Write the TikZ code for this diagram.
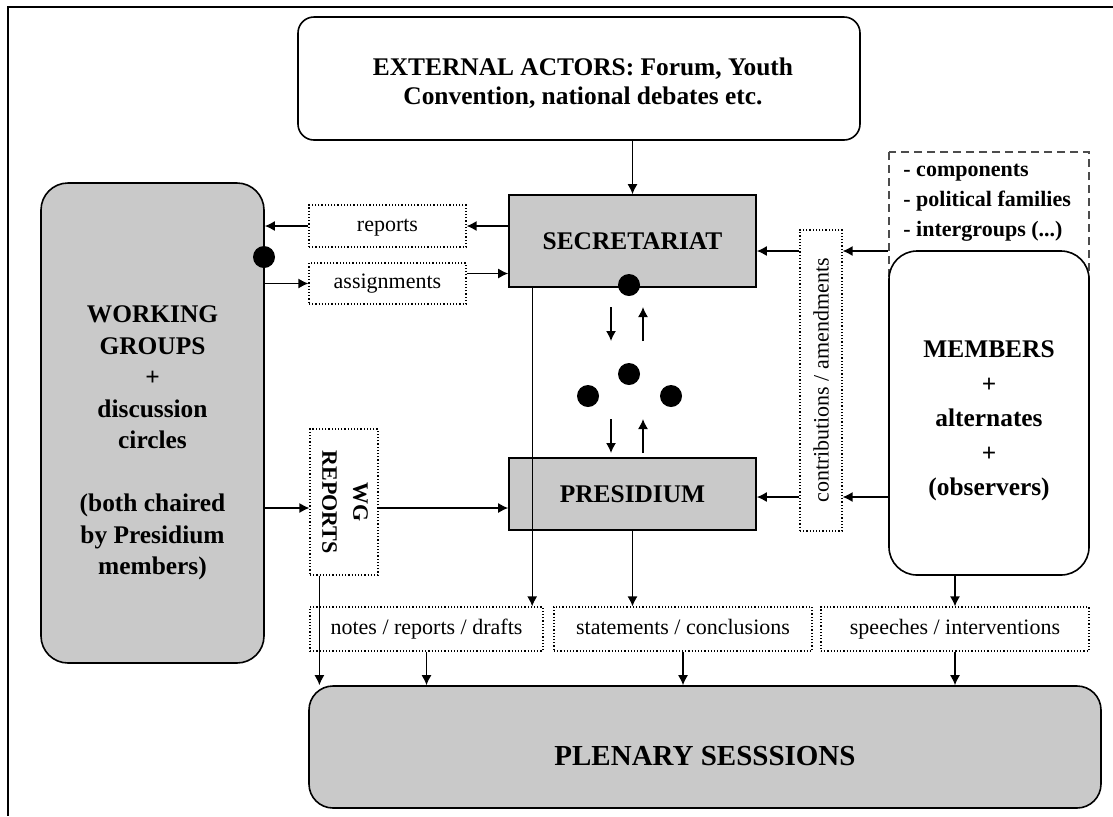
\documentclass[tikz,border=0pt]{standalone}
\usepackage{fontspec}
\setmainfont{Liberation Serif}
\usepackage{graphicx}
\usepackage{tikz}
\usetikzlibrary{calc,arrows.meta}
\definecolor{boxgray}{RGB}{201,201,201}

\begin{document}
\begin{tikzpicture}[x=0.5pt, y=-0.5pt,
    >={Latex[length=5pt,width=5pt]},
    arr/.style={->, line width=0.7pt},
    graybox/.style={draw, line width=0.8pt, fill=boxgray, inner sep=0pt, font=\bfseries\fontsize{12.7pt}{15pt}\selectfont},
    roundbox/.style={draw, line width=0.8pt, rounded corners=8pt, inner sep=0pt, align=center, font=\bfseries\fontsize{12.7pt}{15pt}\selectfont},
    boxtext/.style={inner sep=0pt, align=center, font=\bfseries\fontsize{12.7pt}{15.75pt}\selectfont},
    dotbox/.style={draw, densely dotted, line width=0.6pt, inner sep=0pt, font=\fontsize{11pt}{13pt}\selectfont},
    dotlabel/.style={dotbox, text height=7.5pt, text depth=2.5pt},
    dot/.style={circle, fill=black, inner sep=0pt, minimum size=11pt}]
    \useasboundingbox (0,0) rectangle (1113,816);

    % Frame
    \draw[line width=1pt] (1113,7) -- (8,7) -- (8,816);

    % Main boxes
    \node[roundbox, minimum width=281pt, minimum height=61.5pt] (ext) at (579,78.5) {};
    \node[boxtext, font=\bfseries\fontsize{12.7pt}{14.5pt}\selectfont] (exttxt) at ($(ext.center)+(4,5)$) {EXTERNAL ACTORS: Forum, Youth\\Convention, national debates etc.};
    \node[graybox, minimum width=123.5pt, minimum height=46pt] (sec) at (632.5,241) {SECRETARIAT};
    \node[graybox, minimum width=123.5pt, minimum height=36pt] (pres) at (632.5,494) {PRESIDIUM};
    \node[roundbox, fill=boxgray, rounded corners=13.5pt, minimum width=111.5pt, minimum height=240pt] (wg) at (152.5,423) {};
    \node[boxtext] (wgtxt) at ($(wg.center)+(0,20)$) {WORKING\\GROUPS\\+\\discussion\\circles\\[15.75pt](both chaired\\by Presidium\\members)};

    % Dotted labels
    \node[dotlabel, minimum width=78.5pt, minimum height=21pt] (rep) at (387.5,226) {reports};
    \node[dotlabel, minimum width=78.5pt, minimum height=20.5pt] (asg) at (387.5,283.5) {assignments};
    \node[dotbox, minimum width=34pt, minimum height=73pt, font=\bfseries\fontsize{11pt}{15.5pt}\selectfont] (wgrep) at (344,502) {\rotatebox{-90}{\begin{tabular}{@{}c@{}}WG\\REPORTS\end{tabular}}};
    \node[dotbox, minimum width=21pt, minimum height=150.5pt] (contr) at (821,380.5) {\rotatebox{90}{contributions / amendments}};

    % Members and their groupings
    \draw[dashed, dash pattern=on 4pt off 2.5pt, draw=black!70, line width=0.8pt] (889,152) rectangle (1089,300);
    \node[font=\bfseries\fontsize{11pt}{15pt}\selectfont, align=left, anchor=north west, inner sep=0pt] (famtxt) at (903,164) {- components\\- political families\\- intergroups (...)};
    \node[roundbox, fill=white, rounded corners=14pt, minimum width=100pt, minimum height=162pt] (mem) at (989,413) {};
    \node[boxtext, font=\bfseries\fontsize{12.7pt}{17.3pt}\selectfont] (memtxt) at ($(mem.center)+(0,8)$) {MEMBERS\\+\\alternates\\+\\(observers)};

    % Outputs and plenary
    \node[dotlabel, minimum width=116.5pt, minimum height=22pt] (notes) at (426.5,629) {notes / reports / drafts};
    \node[dotlabel, minimum width=129pt, minimum height=22pt] (stat) at (683,629) {statements / conclusions};
    \node[dotlabel, minimum width=134pt, minimum height=22pt] (spch) at (955,629) {speeches / interventions};
    \node[roundbox, fill=boxgray, rounded corners=12pt, minimum width=396pt, minimum height=61pt] (plen) at (705,747) {};
    \node[boxtext, font=\bfseries\fontsize{14.5pt}{17pt}\selectfont] (plentxt) at ($(plen.center)+(0,9)$) {PLENARY SESSSIONS};

    % Dots
    \node[dot] (d0) at (264,257) {};
    \node[dot] (d1) at (629,285) {};
    \node[dot] (d2) at (629,374) {};
    \node[dot] (d3) at (588,396) {};
    \node[dot] (d4) at (671,396) {};

    % Secretariat links
    \draw[arr] (ext.south -| sec.north) -- (sec.north);
    \draw[arr] (sec.west |- rep.east) -- (rep.east);
    \draw[arr] (rep.west) -- (rep.west -| wg.east);
    \draw[arr] (asg.west -| wg.east) -- (asg.west);
    \coordinate (asgout) at ($(asg.east)+(0,-10)$);
    \draw[arr] (asgout) -- (asgout -| sec.west);
    \coordinate (secdown) at ($(sec.south west)+(24,0)$);
    \draw[arr] (secdown) -- (secdown |- notes.north);

    % Secretariat <-> Presidium
    \foreach \ya/\yb in {307/341, 419/453} {
        \draw[arr] (611,\ya) -- (611,\yb);
        \draw[arr] (643,\yb) -- (643,\ya);
    }

    % WG reports
    \coordinate (wgline) at ($(wgrep.east)+(0,6)$);
    \draw[arr] (wgline -| wg.east) -- (wgline -| wgrep.west);
    \draw[arr] (wgline) -- (wgline -| pres.west);
    \coordinate (wgdown) at ($(wgrep.south west)+(10,0)$);
    \draw[arr] (wgdown) -- (wgdown |- plen.north);

    % Contributions
    \coordinate (cup) at ($(sec.east)+(0,10)$);
    \coordinate (cdn) at ($(pres.east)+(0,3)$);
    \foreach \c in {cup, cdn} {
        \draw[arr] (\c -| mem.west) -- (\c -| contr.east);
        \draw[arr] (\c -| contr.west) -- (\c);
    }

    % Down to plenary
    \draw[arr] (pres.south) -- (pres.south |- stat.north);
    \draw[arr] (spch.north |- mem.south) -- (spch.north);
    \draw[arr] (notes.south) -- (notes.south |- plen.north);
    \draw[arr] (stat.south) -- (stat.south |- plen.north);
    \draw[arr] (spch.south) -- (spch.south |- plen.north);
\end{tikzpicture}
\end{document}
